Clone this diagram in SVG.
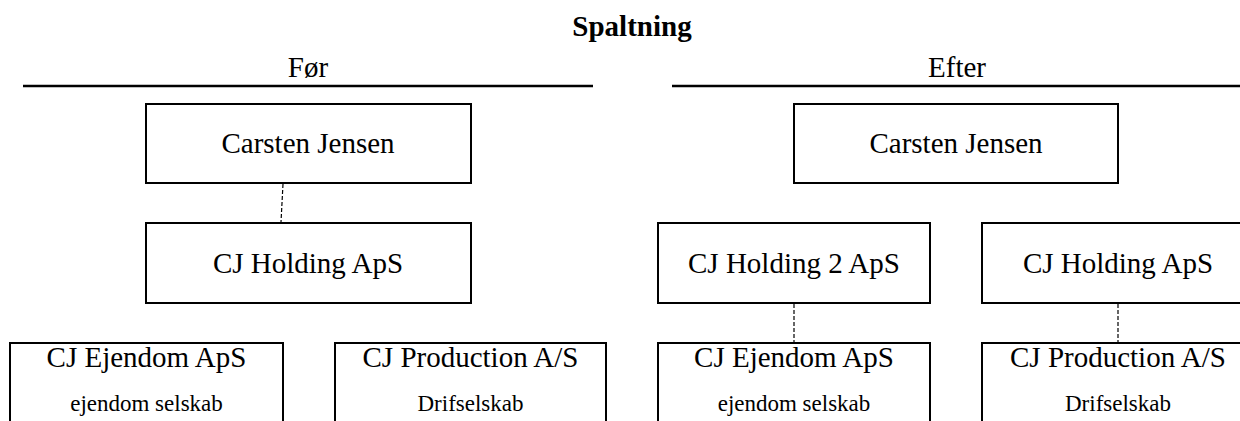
<svg xmlns="http://www.w3.org/2000/svg" width="1240" height="421" viewBox="0 0 1240 421">
  <style>
    .box { fill: #ffffff; stroke: #000000; stroke-width: 2; }
    .rule { stroke: #000000; stroke-width: 2.5; }
    .link { stroke: #000000; stroke-width: 1.2; stroke-dasharray: 4 2; fill: none; }
    text { font-family: 'Liberation Serif', 'Tinos', 'Times New Roman', Times, serif; fill: #000000; text-anchor: middle; }
    .t { font-size: 29px; }
    .sub { font-size: 23px; }
    .title { font-size: 29px; font-weight: bold; }
  </style>
  <rect width="1240" height="421" fill="#ffffff"/>

  <!-- heading and column headers -->
  <g id="header">
    <text class="title" x="632" y="36">Spaltning</text>
    <text class="t" x="308" y="77">Før</text>
    <line class="rule" x1="23" y1="86" x2="593" y2="86"/>
    <text class="t" x="957" y="77">Efter</text>
    <line class="rule" x1="672" y1="86" x2="1240" y2="86"/>
  </g>

  <!-- connectors -->
  <g id="connectors">
    <line class="link" x1="283" y1="184" x2="281" y2="222"/>
    <line class="link" x1="794" y1="304" x2="794" y2="342"/>
    <line class="link" x1="1118" y1="304" x2="1118" y2="342"/>
  </g>

  <!-- before -->
  <g id="before-owner">
    <rect class="box" x="146" y="104" width="325" height="79"/>
    <text class="t" x="308" y="153">Carsten Jensen</text>
  </g>
  <g id="before-holding">
    <rect class="box" x="146" y="223" width="325" height="80"/>
    <text class="t" x="308" y="273">CJ Holding ApS</text>
  </g>
  <g id="before-ejendom">
    <rect class="box" x="10" y="343" width="273" height="100"/>
    <text class="t" x="146.5" y="367">CJ Ejendom ApS</text>
    <text class="sub" x="146.5" y="411">ejendom selskab</text>
  </g>
  <g id="before-production">
    <rect class="box" x="335" y="343" width="271" height="100"/>
    <text class="t" x="470.5" y="367">CJ Production A/S</text>
    <text class="sub" x="470.5" y="411">Drifselskab</text>
  </g>

  <!-- after -->
  <g id="after-owner">
    <rect class="box" x="794" y="104" width="324" height="79"/>
    <text class="t" x="956" y="153">Carsten Jensen</text>
  </g>
  <g id="after-holding2">
    <rect class="box" x="658" y="223" width="272" height="80"/>
    <text class="t" x="794" y="273">CJ Holding 2 ApS</text>
  </g>
  <g id="after-holding">
    <rect class="box" x="982" y="223" width="272" height="80"/>
    <text class="t" x="1118" y="273">CJ Holding ApS</text>
  </g>
  <g id="after-ejendom">
    <rect class="box" x="658" y="343" width="272" height="100"/>
    <text class="t" x="794" y="367">CJ Ejendom ApS</text>
    <text class="sub" x="794" y="411">ejendom selskab</text>
  </g>
  <g id="after-production">
    <rect class="box" x="982" y="343" width="272" height="100"/>
    <text class="t" x="1118" y="367">CJ Production A/S</text>
    <text class="sub" x="1118" y="411">Drifselskab</text>
  </g>
</svg>
